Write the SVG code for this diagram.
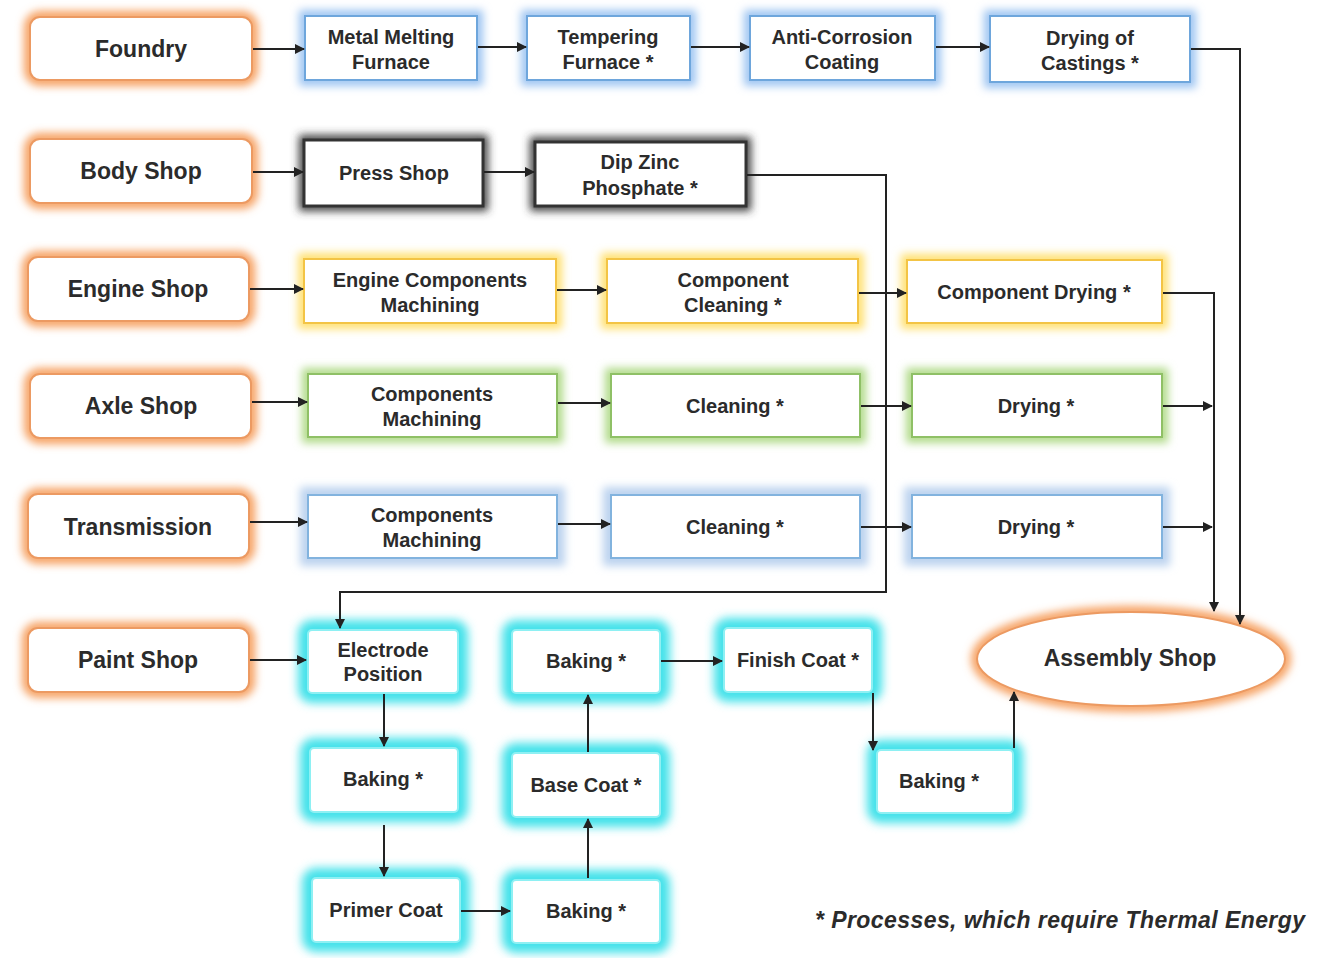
<svg xmlns="http://www.w3.org/2000/svg" width="1329" height="958" viewBox="0 0 1329 958">
<defs>
<filter id="blur" x="-30%" y="-60%" width="160%" height="220%"><feGaussianBlur stdDeviation="4"/></filter>
<filter id="blurc" x="-30%" y="-60%" width="160%" height="220%"><feGaussianBlur stdDeviation="5"/></filter>
<marker id="arr" viewBox="0 0 10 10" refX="9" refY="5" markerWidth="5" markerHeight="5" orient="auto"><path d="M0,0 L10,5 L0,10 z" fill="#222"/></marker>
<style>
text{font-family:"Liberation Sans",Arial,sans-serif;font-weight:700;fill:#2b2b2b;text-anchor:middle;dominant-baseline:central}
.big{font-size:23px}
.sm{font-size:20px}
.g{filter:url(#blur);fill:none;stroke-width:12}
.box{fill:#fff;stroke-width:2}
.o .g{stroke:#f6a060}.o .box{stroke:#ec9a62}
.b .g{stroke:#9cc4f2}.b .box{stroke:#6ea6dc}
.k .g{stroke:#3a3a3a;stroke-width:10}.k .box{stroke:#333;stroke-width:3}
.y .g{stroke:#ffe070}.y .box{stroke:#f3c445}
.gr .g{stroke:#b0da88}.gr .box{stroke:#8fc066}
.t .g{stroke:#bcd3ef;stroke-width:16}.t .box{stroke:#82b3de}
.c .g{stroke:#45e2ea;stroke-width:20;filter:url(#blurc)}.c .box{stroke:#8ef0f3}
.conn{fill:none;stroke:#222;stroke-width:2;marker-end:url(#arr)}
.note{font-size:23px;font-style:italic;text-anchor:start}
</style>
</defs>
<rect width="1329" height="958" fill="#fff"/>

<g id="foundry" class="o"><rect class="g" x="30" y="17" width="222" height="63" rx="10"/><rect class="box" x="30" y="17" width="222" height="63" rx="10"/><text class="big" x="141" y="49">Foundry</text></g>
<g id="metal-melting" class="b"><rect class="g" x="305" y="16" width="172" height="64"/><rect class="box" x="305" y="16" width="172" height="64"/><text class="sm" x="391" y="37">Metal Melting</text><text class="sm" x="391" y="62">Furnace</text></g>
<g id="tempering" class="b"><rect class="g" x="527" y="16" width="163" height="64"/><rect class="box" x="527" y="16" width="163" height="64"/><text class="sm" x="608" y="37">Tempering</text><text class="sm" x="608" y="62">Furnace *</text></g>
<g id="anti-corrosion" class="b"><rect class="g" x="750" y="16" width="185" height="64"/><rect class="box" x="750" y="16" width="185" height="64"/><text class="sm" x="842" y="37">Anti-Corrosion</text><text class="sm" x="842" y="62">Coating</text></g>
<g id="drying-castings" class="b"><rect class="g" x="990" y="16" width="200" height="66"/><rect class="box" x="990" y="16" width="200" height="66"/><text class="sm" x="1090" y="38">Drying of</text><text class="sm" x="1090" y="63">Castings *</text></g>

<g id="body-shop" class="o"><rect class="g" x="30" y="139" width="222" height="64" rx="10"/><rect class="box" x="30" y="139" width="222" height="64" rx="10"/><text class="big" x="141" y="171">Body Shop</text></g>
<g id="press-shop" class="k"><rect class="g" x="304" y="140" width="179" height="66"/><rect class="box" x="304" y="140" width="179" height="66"/><text class="sm" x="394" y="173">Press Shop</text></g>
<g id="dip-zinc" class="k"><rect class="g" x="535" y="142" width="211" height="64"/><rect class="box" x="535" y="142" width="211" height="64"/><text class="sm" x="640" y="162">Dip Zinc</text><text class="sm" x="640" y="188">Phosphate *</text></g>

<g id="engine-shop" class="o"><rect class="g" x="28" y="257" width="221" height="64" rx="10"/><rect class="box" x="28" y="257" width="221" height="64" rx="10"/><text class="big" x="138" y="289">Engine Shop</text></g>
<g id="engine-machining" class="y"><rect class="g" x="304" y="259" width="252" height="64"/><rect class="box" x="304" y="259" width="252" height="64"/><text class="sm" x="430" y="280">Engine Components</text><text class="sm" x="430" y="305">Machining</text></g>
<g id="component-cleaning" class="y"><rect class="g" x="607" y="259" width="251" height="64"/><rect class="box" x="607" y="259" width="251" height="64"/><text class="sm" x="733" y="280">Component</text><text class="sm" x="733" y="305">Cleaning *</text></g>
<g id="component-drying" class="y"><rect class="g" x="907" y="260" width="255" height="63"/><rect class="box" x="907" y="260" width="255" height="63"/><text class="sm" x="1034" y="292">Component Drying *</text></g>

<g id="axle-shop" class="o"><rect class="g" x="30" y="374" width="221" height="64" rx="10"/><rect class="box" x="30" y="374" width="221" height="64" rx="10"/><text class="big" x="141" y="406">Axle Shop</text></g>
<g id="axle-machining" class="gr"><rect class="g" x="308" y="374" width="249" height="63"/><rect class="box" x="308" y="374" width="249" height="63"/><text class="sm" x="432" y="394">Components</text><text class="sm" x="432" y="419">Machining</text></g>
<g id="axle-cleaning" class="gr"><rect class="g" x="611" y="374" width="249" height="63"/><rect class="box" x="611" y="374" width="249" height="63"/><text class="sm" x="735" y="406">Cleaning *</text></g>
<g id="axle-drying" class="gr"><rect class="g" x="912" y="374" width="250" height="63"/><rect class="box" x="912" y="374" width="250" height="63"/><text class="sm" x="1036" y="406">Drying *</text></g>

<g id="transmission" class="o"><rect class="g" x="28" y="494" width="221" height="64" rx="10"/><rect class="box" x="28" y="494" width="221" height="64" rx="10"/><text class="big" x="138" y="527">Transmission</text></g>
<g id="trans-machining" class="t"><rect class="g" x="308" y="495" width="249" height="63"/><rect class="box" x="308" y="495" width="249" height="63"/><text class="sm" x="432" y="515">Components</text><text class="sm" x="432" y="540">Machining</text></g>
<g id="trans-cleaning" class="t"><rect class="g" x="611" y="495" width="249" height="63"/><rect class="box" x="611" y="495" width="249" height="63"/><text class="sm" x="735" y="527">Cleaning *</text></g>
<g id="trans-drying" class="t"><rect class="g" x="912" y="495" width="250" height="63"/><rect class="box" x="912" y="495" width="250" height="63"/><text class="sm" x="1036" y="527">Drying *</text></g>

<g id="paint-shop" class="o"><rect class="g" x="28" y="628" width="221" height="64" rx="10"/><rect class="box" x="28" y="628" width="221" height="64" rx="10"/><text class="big" x="138" y="660">Paint Shop</text></g>
<g id="electrode" class="c"><rect class="g" x="308" y="630" width="150" height="63" rx="4"/><rect class="box" x="308" y="630" width="150" height="63" rx="4"/><text class="sm" x="383" y="650">Electrode</text><text class="sm" x="383" y="674">Position</text></g>
<g id="baking1" class="c"><rect class="g" x="310" y="748" width="148" height="64" rx="4"/><rect class="box" x="310" y="748" width="148" height="64" rx="4"/><text class="sm" x="383" y="779">Baking *</text></g>
<g id="primer" class="c"><rect class="g" x="312" y="878" width="148" height="64" rx="4"/><rect class="box" x="312" y="878" width="148" height="64" rx="4"/><text class="sm" x="386" y="910">Primer Coat</text></g>
<g id="baking2" class="c"><rect class="g" x="512" y="880" width="148" height="63" rx="4"/><rect class="box" x="512" y="880" width="148" height="63" rx="4"/><text class="sm" x="586" y="911">Baking *</text></g>
<g id="base-coat" class="c"><rect class="g" x="512" y="753" width="148" height="64" rx="4"/><rect class="box" x="512" y="753" width="148" height="64" rx="4"/><text class="sm" x="586" y="785">Base Coat *</text></g>
<g id="baking3" class="c"><rect class="g" x="512" y="630" width="148" height="63" rx="4"/><rect class="box" x="512" y="630" width="148" height="63" rx="4"/><text class="sm" x="586" y="661">Baking *</text></g>
<g id="finish-coat" class="c"><rect class="g" x="724" y="628" width="148" height="64" rx="4"/><rect class="box" x="724" y="628" width="148" height="64" rx="4"/><text class="sm" x="798" y="660">Finish Coat *</text></g>
<g id="baking4" class="c"><rect class="g" x="877" y="750" width="136" height="63" rx="4"/><rect class="box" x="877" y="750" width="136" height="63" rx="4"/><text class="sm" x="939" y="781">Baking *</text></g>

<g id="assembly-shop" class="o"><ellipse class="g" cx="1131" cy="659" rx="154" ry="47"/><ellipse class="box" cx="1131" cy="659" rx="154" ry="47"/><text class="big" x="1130" y="658">Assembly Shop</text></g>

<g id="connectors">
<path class="conn" d="M253,49 H304"/>
<path class="conn" d="M478,47 H526"/>
<path class="conn" d="M691,47 H749"/>
<path class="conn" d="M936,47 H989"/>
<path class="conn" d="M1191,49 H1240 V624"/>
<path class="conn" d="M253,172 H303"/>
<path class="conn" d="M484,172 H534"/>
<path class="conn" d="M747,175 H886 V592 H340 V628"/>
<path class="conn" d="M250,289 H303"/>
<path class="conn" d="M557,290 H606"/>
<path class="conn" d="M859,293 H906"/>
<path class="conn" d="M1163,293 H1214 V611"/>
<path class="conn" d="M252,402 H307"/>
<path class="conn" d="M558,403 H610"/>
<path class="conn" d="M861,406 H911"/>
<path class="conn" d="M1163,406 H1212"/>
<path class="conn" d="M250,522 H307"/>
<path class="conn" d="M558,524 H610"/>
<path class="conn" d="M861,527 H911"/>
<path class="conn" d="M1163,527 H1212"/>
<path class="conn" d="M250,660 H306"/>
<path class="conn" d="M384,694 V746"/>
<path class="conn" d="M384,825 V876"/>
<path class="conn" d="M461,911 H510"/>
<path class="conn" d="M588,878 V819"/>
<path class="conn" d="M588,752 V695"/>
<path class="conn" d="M661,661 H722"/>
<path class="conn" d="M873,693 V750"/>
<path class="conn" d="M1014,748 V692"/>
</g>

<text class="note" x="815" y="920" textLength="490" lengthAdjust="spacing">* Processes, which require Thermal Energy</text>
</svg>
